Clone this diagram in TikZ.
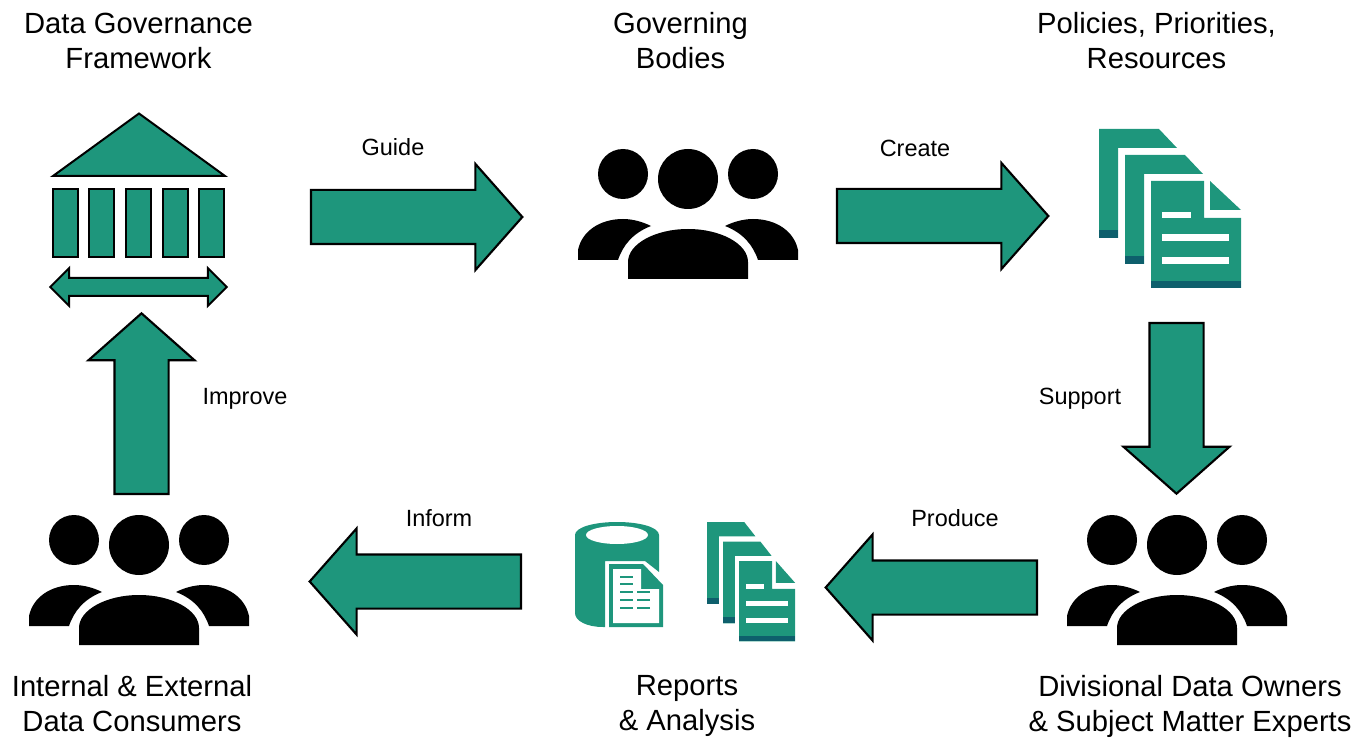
\documentclass[tikz,border=0pt]{standalone}
\usepackage{fontspec}
\setmainfont{Liberation Sans}
\usetikzlibrary{shapes.arrows}

\definecolor{govteal}{HTML}{1E967C}
\definecolor{govdark}{HTML}{0E5F6C}

\tikzset{
	title/.style={align=center, font=\fontsize{21.9}{26.2}\selectfont},
	verb/.style={font=\fontsize{17.6}{20}\selectfont},
	blockarrow/.style={single arrow, anchor=tail, draw=black, fill=govteal, line width=1.6pt, inner xsep=0pt, inner ysep=19.5pt, outer sep=0pt,
		minimum height=158.5pt, single arrow head extend=19.5pt, single arrow tip angle=97},
	pillar/.style={draw=black, fill=govteal, line width=1.5pt},
	peopleicon/.pic={
		\fill (0,0) circle [radius=30];
		\fill (-65,-5) circle [radius=25];
		\fill (65,-5) circle [radius=25];
		\fill (-60,100) -- (-60,83) .. controls (-60,65) and (-33,50) .. (0,50)
			.. controls (33,50) and (60,65) .. (60,83) -- (60,100) -- cycle;
		\foreach \s in {-1,1} {
			\fill (\s*110,81) -- (\s*110,71) .. controls (\s*106,52) and (\s*88,40) .. (\s*65,40)
				.. controls (\s*55,40) and (\s*45,43) .. (\s*37,47)
				.. controls (\s*55,54) and (\s*65,66) .. (\s*70,81) -- cycle;
		}
	},
	docstack/.pic={
		\foreach \d in {0,26} {
			\fill [govteal] (\d,\d) -- ++(60,0) -- ++(18,19) -- ++(-59,0) -- ++(0,90) -- ++(-19,0) -- cycle;
			\fill [govdark] (\d,\d+101) rectangle ++(19,8);
		}
		\fill [govteal] (52,52) -- (105,52) -- (105,89) -- (142,89) -- (142,159) -- (52,159) -- cycle;
		\fill [govteal] (111,52) -- (142,81) -- (111,81) -- cycle;
		\fill [govdark] (52,152) rectangle (142,159);
		\fill [white] (63,83) rectangle (92,89);
		\fill [white] (63,105) rectangle (130,112);
		\fill [white] (63,128) rectangle (130,135);
	},
	dbicon/.pic={
		\fill [govteal] (-42,0) .. controls (-42,-8) and (-22,-13) .. (0,-13)
			.. controls (22,-13) and (42,-8) .. (42,0) -- (42,37) -- (28,26) -- (-12,26) -- (-12,92) -- (-14,92)
			.. controls (-30,92) and (-42,86) .. (-42,78) -- cycle;
		\fill [white] (0,0) ellipse [x radius=31, y radius=9];
		\fill [govteal] (-8,29) -- (26,29) -- (46,50) -- (46,92) -- (-8,92) -- cycle;
		\fill [white] (-4,34) -- (24,34) -- (24,54) -- (42,54) -- (42,88) -- (-4,88) -- cycle;
		\foreach \y in {42,49,57,65,73} \draw [govteal, line width=2.2pt] (3,\y) -- (16,\y);
		\foreach \y in {57,65,73} \draw [govteal, line width=2.2pt] (20,\y) -- (33,\y);
	}
}

\begin{document}
\begin{tikzpicture}[x=0.75pt, y=-0.75pt]

	\useasboundingbox (0,0) rectangle (1365,738);

	% titles
	\node [title] (tframework) at (138.5,41) {Data Governance\\Framework};
	\node [title] (tbodies) at (680.5,41) {Governing\\Bodies};
	\node [title] (tpolicies) at (1156.5,41) {Policies, Priorities,\\Resources};
	\node [title] (tconsumers) at (132,703.5) {Internal \& External\\Data Consumers};
	\node [title] (treports) at (687,706) {Reports\\\& Analysis};
	\node [title] (towners) at (1190,706) {Divisional Data Owners\\\& Subject Matter Experts};

	% building
	\draw [pillar, line join=miter] (139,113.5) -- (225,176) -- (53,176) -- cycle;
	\foreach \x in {53,89,126,163,199}
		\draw [pillar] (\x,189) rectangle ++(24.5,68);
	\node [double arrow, draw=black, fill=govteal, line width=1.5pt, inner xsep=0pt, inner ysep=6pt, outer sep=0pt,
		minimum height=132.5pt, double arrow head extend=7.5pt] (span) at (138.5,287) {};

	% icons
	\pic (bodies) at (688,179) {peopleicon};
	\pic (owners) at (1177,545) {peopleicon};
	\pic (consumers) at (139,545) {peopleicon};
	\pic (policies) at (1099,129) {docstack};
	\pic [xscale=0.62, yscale=0.75] (docs) at (707,522) {docstack};
	\pic (db) at (617,535) {dbicon};

	% arrows
	\node [blockarrow] (guide) at (311,217) {};
	\node [blockarrow] (create) at (837,216) {};
	\node [blockarrow, rotate=-90, minimum height=128pt] (support) at (1176.5,323) {};
	\node [blockarrow, rotate=180] (produce) at (1037,587.5) {};
	\node [blockarrow, rotate=180] (inform) at (521,581.5) {};
	\node [blockarrow, rotate=90, minimum height=135.5pt] (improve) at (141.5,494) {};

	% labels
	\node [verb] (lguide) at (393,147) {Guide};
	\node [verb] (lcreate) at (915,148) {Create};
	\node [verb] (lsupport) at (1080,399) {Support};
	\node [verb] (limprove) at (245,399) {Improve};
	\node [verb] (linform) at (439,518) {Inform};
	\node [verb] (lproduce) at (955,518) {Produce};

\end{tikzpicture}
\end{document}
